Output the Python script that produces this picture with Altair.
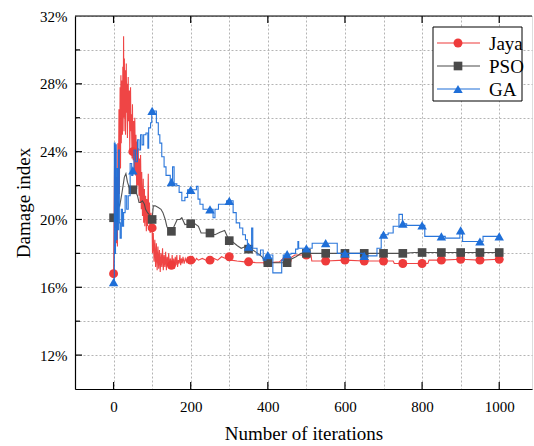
import altair as alt
import pandas as pd

# ---------------- data ----------------
series_names = ["Jaya", "PSO", "GA"]
series_colors = ["#EE3B3B", "#4A4A4A", "#1F6FD8"]
series_shapes = ["circle", "square", "triangle-up"]

jaya_it = [0, 2, 3, 4, 5, 7, 8, 10, 11, 12, 14, 15, 17, 18, 19, 20, 22, 23, 24, 25, 26, 27, 28, 29, 30,
           31, 33, 34, 35, 36, 38, 39, 41, 42, 44, 45, 46, 48, 49, 50, 51, 52, 54, 55, 57, 58, 60, 61, 63,
           64, 66, 67, 69, 70, 72, 73, 75, 77, 78, 80, 81, 83, 85, 86, 88, 90, 91, 93, 95, 97, 100, 101,
           103, 105, 107, 109, 111, 113, 115, 117, 119, 121, 123, 125, 127, 129, 131, 133, 135, 137, 139,
           141, 143, 145, 147, 150, 152, 154, 156, 158, 160, 162, 164, 166, 168, 170, 172, 174, 176, 178,
           180, 183, 186, 189, 192, 195, 198, 200, 205, 210, 215, 220, 230, 240, 250, 260, 270, 280, 290,
           300, 305, 320, 340, 350, 370, 400, 430, 440, 450, 470, 500, 512, 514, 550, 600, 650, 700, 725,
           728, 750, 800, 815, 818, 850, 900, 950, 1000]
jaya_val = [16.8, 22.0, 24.4, 19.5, 24.2, 18.6, 22.5, 18.4, 24.5, 20.0, 26.5, 21.5, 27.8, 23.0, 28.5, 24.5,
            28.2, 25.0, 29.0, 26.0, 30.8, 25.2, 29.5, 26.0, 28.8, 25.0, 29.2, 26.3, 28.0, 24.8, 28.4, 25.8,
            27.6, 24.0, 27.8, 25.2, 26.2, 23.6, 26.8, 24.0, 23.5, 25.8, 22.8, 26.0, 22.6, 25.0, 21.8, 24.6,
            22.0, 24.2, 21.4, 23.6, 21.0, 23.8, 20.6, 22.8, 20.2, 22.4, 19.8, 21.8, 19.6, 21.4, 19.3, 21.2,
            19.6, 22.7, 19.8, 21.0, 19.2, 20.4, 19.5, 18.0, 19.2, 17.5, 18.8, 17.2, 18.6, 17.0, 18.4, 17.1,
            18.2, 16.9, 18.0, 17.2, 18.3, 17.0, 17.9, 17.2, 18.1, 17.0, 17.8, 17.3, 18.0, 17.1, 17.7, 17.3,
            17.9, 17.2, 17.7, 17.1, 17.8, 17.3, 17.9, 17.2, 17.6, 17.4, 17.9, 17.3, 17.7, 17.4, 17.8, 17.4,
            17.7, 17.5, 17.8, 17.5, 17.7, 17.6, 17.8, 17.5, 17.7, 17.6, 17.7, 17.6, 17.6, 17.7, 17.6, 17.8,
            17.7, 17.8, 17.6, 17.55, 17.5, 17.5, 17.45, 17.45, 17.5, 17.7, 17.6, 17.9, 17.9, 17.9, 17.55,
            17.55, 17.6, 17.55, 17.55, 17.55, 17.4, 17.4, 17.4, 17.4, 17.6, 17.6, 17.65, 17.6, 17.65]

pso_it = [0, 8, 12, 16, 22, 28, 32, 36, 42, 50, 58, 62, 66, 70, 75, 80, 83, 88, 92, 96, 100, 103, 108,
          116, 123, 128, 134, 138, 142, 150, 157, 165, 172, 177, 185, 200, 211, 220, 227, 237, 250, 263,
          276, 288, 295, 300, 310, 321, 331, 342, 350, 361, 374, 385, 393, 400, 417, 443, 450, 460, 473,
          486, 500, 550, 600, 650, 700, 750, 780, 800, 850, 900, 950, 1000]
pso_val = [20.1, 20.1, 21.0, 20.8, 21.6, 22.5, 22.7, 22.2, 21.8, 21.75, 21.6, 21.4, 21.0, 21.0, 21.1,
           20.9, 20.6, 20.4, 20.3, 20.0, 20.0, 20.8, 20.8, 20.7, 20.6, 20.4, 20.0, 19.6, 19.4, 19.3, 19.6,
           20.0, 20.0, 20.1, 19.7, 19.75, 19.75, 19.6, 19.2, 19.2, 19.2, 19.1, 19.25, 19.35, 19.0, 18.75,
           18.65, 18.45, 18.3, 18.4, 18.25, 18.2, 18.0, 17.8, 17.5, 17.45, 17.45, 17.45, 17.45, 17.65,
           17.8, 18.0, 18.0, 18.0, 18.0, 18.0, 18.0, 18.0, 18.05, 18.05, 18.05, 18.05, 18.05, 18.05]

ga_it = [0, 2, 4, 5, 7, 9, 11, 13, 15, 17, 20, 23, 26, 30, 34, 38, 43, 47, 50, 53, 57, 62, 66, 70, 74,
         78, 84, 89, 91, 96, 99, 100, 111, 116, 120, 125, 131, 136, 147, 150, 153, 157, 164, 170, 177,
         185, 192, 200, 215, 219, 224, 232, 250, 258, 263, 272, 293, 300, 310, 318, 327, 335, 342, 347,
         350, 358, 361, 372, 381, 388, 395, 400, 413, 436, 440, 450, 460, 472, 478, 480, 500, 515, 550,
         580, 600, 647, 650, 683, 694, 700, 712, 725, 740, 749, 750, 760, 800, 807, 850, 860, 898, 900,
         905, 950, 958, 1000]
ga_val = [16.3, 24.5, 18.0, 24.4, 18.8, 23.0, 19.4, 24.1, 19.8, 18.9, 20.6, 19.6, 20.4, 21.4, 20.6, 21.4,
          23.3, 22.6, 22.9, 24.1, 23.4, 24.7, 24.1, 25.0, 24.4, 25.0, 25.1, 24.2, 25.4, 25.7, 26.4, 26.4,
          25.7, 25.0, 24.5, 23.7, 23.1, 22.6, 22.2, 22.2, 23.1, 22.1, 22.0, 21.6, 21.1, 21.3, 21.75, 21.75,
          21.95, 21.2, 20.9, 20.6, 20.6, 20.1, 20.6, 20.9, 21.1, 21.1, 20.4, 19.8, 19.5, 19.1, 18.8, 18.4,
          18.4, 19.5, 18.3, 17.9, 18.2, 17.6, 17.9, 17.9, 16.85, 17.6, 17.9, 17.95, 18.0, 18.25, 18.7,
          18.3, 18.3, 18.6, 18.6, 18.0, 18.0, 17.85, 17.85, 18.3, 19.1, 19.1, 19.2, 19.6, 20.3, 19.75,
          19.75, 19.65, 19.65, 19.0, 19.0, 18.9, 19.35, 19.35, 18.7, 18.7, 19.0, 19.0]

x_grid = [-100, 0, 100, 200, 300, 400, 500, 600, 700, 800, 900, 1000]
x_major = [0, 200, 400, 600, 800, 1000]
y_grid = [10, 12, 14, 16, 18, 20, 22, 24, 26, 28, 30, 32]
y_major = [12, 16, 20, 24, 28]
y_minor = [14, 18, 22, 26, 30]

# ---------------- layout ----------------
W, H = 457, 373
FONT = "Liberation Serif"

xscale = alt.Scale(domain=[-100, 1085], nice=False, zero=False)
yscale = alt.Scale(domain=[10, 32], nice=False, zero=False)

xaxis = alt.Axis(values=x_grid, labelExpr="(datum.value % 200 == 0 && datum.value >= 0) ? datum.label : ''",
                 format="d", grid=True, gridDash=[2, 2], gridColor="#b4b4b4", gridWidth=1,
                 ticks=False, domainColor="black", domainWidth=1.2, labelFont=FONT, labelFontSize=15,
                 labelColor="black", labelPadding=10, title="Number of iterations", titleFont=FONT,
                 titleFontSize=19, titleFontWeight="normal", titleColor="black", titlePadding=10,
                 labelFlush=False, labelOverlap=False)
yaxis = alt.Axis(values=y_grid, labelExpr="(datum.value % 4 == 0 && datum.value >= 12) ? datum.value + '%' : ''",
                 grid=True, gridDash=[2, 2], gridColor="#b4b4b4", gridWidth=1,
                 ticks=False, domainColor="black", domainWidth=1.2, labelFont=FONT, labelFontSize=15,
                 labelColor="black", labelPadding=8, title="Damage index", titleFont=FONT,
                 titleFontSize=19, titleFontWeight="normal", titleColor="black", titlePadding=6,
                 labelFlush=False, labelOverlap=False)

def frame(it, val, name):
    return pd.DataFrame({"it": it, "v": val, "series": name})

dfs = [frame(jaya_it, jaya_val, "Jaya"), frame(pso_it, pso_val, "PSO"), frame(ga_it, ga_val, "GA")]
interps = ["linear", "linear", "step-after"]
sizes = [80, 75, 90]

layers = []
for df, color, shape, interp, size in zip(dfs, series_colors, series_shapes, interps, sizes):
    base = alt.Chart(df).encode(x=alt.X("it:Q", scale=xscale, axis=xaxis),
                                y=alt.Y("v:Q", scale=yscale, axis=yaxis))
    layers.append(base.mark_line(interpolate=interp, color=color, strokeWidth=1.1, opacity=0.95))
    layers.append(base.transform_filter("datum.it % 50 == 0")
                  .mark_point(shape=shape, filled=True, size=size, color=color, opacity=1))

# top border
layers.append(alt.Chart(pd.DataFrame({"a": [0]})).mark_rule(color="black", strokeWidth=1.2)
              .encode(x=alt.value(0), x2=alt.value(W), y=alt.value(0)))

# inward ticks
xt = pd.DataFrame({"t": x_major})
layers.append(alt.Chart(xt).mark_rule(color="black", strokeWidth=1.2)
              .encode(x=alt.X("t:Q", scale=xscale, axis=xaxis), y=alt.value(H), y2=alt.value(H - 7)))
layers.append(alt.Chart(xt).mark_rule(color="black", strokeWidth=1.2)
              .encode(x=alt.X("t:Q", scale=xscale, axis=xaxis), y=alt.value(0), y2=alt.value(7)))
yt = pd.DataFrame({"t": y_major})
layers.append(alt.Chart(yt).mark_rule(color="black", strokeWidth=1.2)
              .encode(y=alt.Y("t:Q", scale=yscale, axis=yaxis), x=alt.value(0), x2=alt.value(7)))
ym = pd.DataFrame({"t": y_minor})
layers.append(alt.Chart(ym).mark_rule(color="black", strokeWidth=1.2)
              .encode(y=alt.Y("t:Q", scale=yscale, axis=yaxis), x=alt.value(0), x2=alt.value(5)))

# legend
one = pd.DataFrame({"a": [0]})
layers.append(alt.Chart(one).mark_rect(fill="white", stroke="black", strokeWidth=1)
              .encode(x=alt.value(358), x2=alt.value(447), y=alt.value(11), y2=alt.value(85)))
for i, (name, color, shape, size) in enumerate(zip(series_names, series_colors, series_shapes, sizes)):
    yy = 27 + 23 * i
    d = pd.DataFrame({"s": [name]})
    layers.append(alt.Chart(d).mark_rule(color=color, strokeWidth=1.1)
                  .encode(x=alt.value(362), x2=alt.value(405), y=alt.value(yy)))
    layers.append(alt.Chart(d).mark_point(shape=shape, filled=True, size=size, color=color, opacity=1)
                  .encode(x=alt.value(383), y=alt.value(yy)))
    layers.append(alt.Chart(d).mark_text(font=FONT, fontSize=19, color="black", align="left", baseline="middle")
                  .encode(x=alt.value(414), y=alt.value(yy + 1), text="s:N"))

chart = alt.layer(*layers).properties(
    width=W, height=H,
    padding={"left": 75, "top": 16, "right": 2, "bottom": 57},
    autosize=alt.AutoSizeParams(type="none"),
).configure_view(stroke=None).configure(background="white")

chart.save("out.html", embed_options={"renderer": "svg", "actions": False})
